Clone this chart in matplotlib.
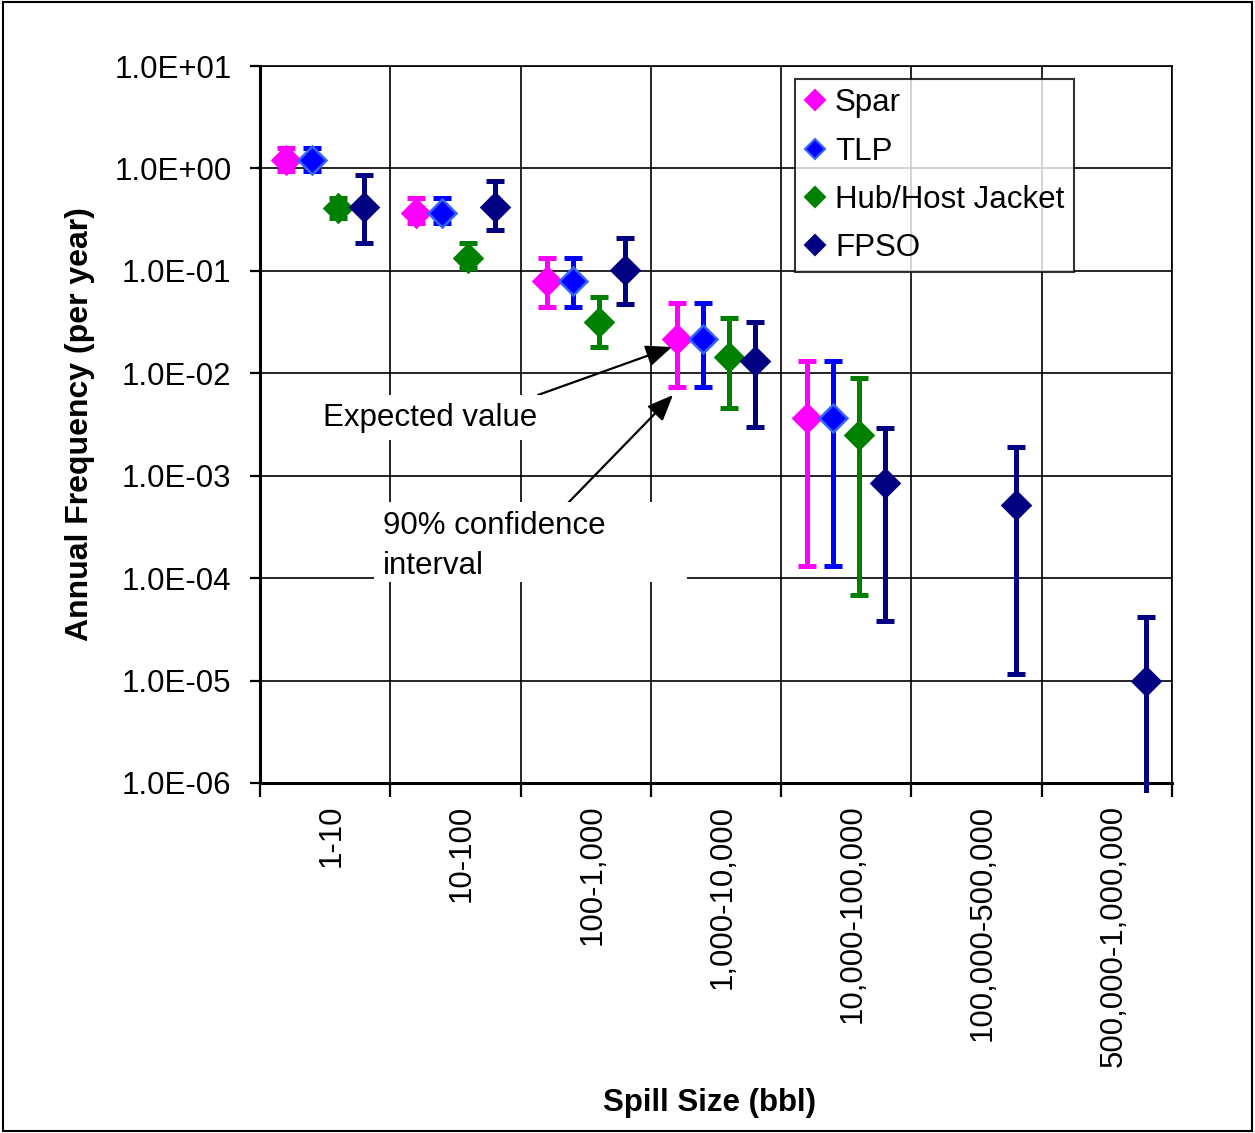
import numpy as np
import matplotlib
matplotlib.use("Agg")
import matplotlib.pyplot as plt
from matplotlib.lines import Line2D
from matplotlib.patches import Rectangle
from matplotlib.transforms import Bbox

# =============================================================================
# Datos
# =============================================================================
categorias = ["1-10", "10-100", "100-1,000", "1,000-10,000",
              "10,000-100,000", "100,000-500,000", "500,000-1,000,000"]

series = ["Spar", "TLP", "Hub/Host Jacket", "FPSO"]
colores = ["#FF00FF", "#0000FF", "#008000", "#000080"]
bordes = ["#FF00FF", "#3366FF", "#008000", "#000080"]
desplaz = [-0.3, -0.1, 0.1, 0.3]

nan = np.nan
spar_val = [1.22, 0.37, 0.079, 0.0216, 0.0037, nan, nan]
spar_lo = [0.95, 0.29, 0.044, 0.0073, 1.32e-4, nan, nan]
spar_hi = [1.6, 0.52, 0.135, 0.049, 0.0131, nan, nan]

tlp_val = [1.22, 0.37, 0.079, 0.0216, 0.0037, nan, nan]
tlp_lo = [0.95, 0.29, 0.044, 0.0073, 1.32e-4, nan, nan]
tlp_hi = [1.6, 0.52, 0.135, 0.049, 0.0131, nan, nan]

hub_val = [0.41, 0.133, 0.032, 0.0144, 0.0025, nan, nan]
hub_lo = [0.33, 0.106, 0.018, 0.0046, 6.8e-5, nan, nan]
hub_hi = [0.52, 0.185, 0.055, 0.0345, 0.0090, nan, nan]

fpso_val = [0.42, 0.42, 0.103, 0.0131, 8.5e-4, 5.2e-4, 1.0e-5]
fpso_lo = [0.185, 0.25, 0.047, 0.0030, 3.8e-5, 1.17e-5, 1.0e-7]
fpso_hi = [0.87, 0.76, 0.207, 0.032, 2.9e-3, 1.9e-3, 4.2e-5]

valores = [spar_val, tlp_val, hub_val, fpso_val]
bajos = [spar_lo, tlp_lo, hub_lo, fpso_lo]
altos = [spar_hi, tlp_hi, hub_hi, fpso_hi]

yticks = [1e-6, 1e-5, 1e-4, 1e-3, 1e-2, 1e-1, 1e0, 1e1]
yticklabels = ["1.0E-06", "1.0E-05", "1.0E-04", "1.0E-03",
               "1.0E-02", "1.0E-01", "1.0E+00", "1.0E+01"]

# =============================================================================
# Figura
# =============================================================================
plt.rcParams['font.family'] = ['Liberation Sans', 'DejaVu Sans']
FS = 22.5

W, H = 1255, 1133
fig = plt.figure(figsize=(W / 100, H / 100), dpi=100)


def px(x, y):
    # pixeles de la imagen -> fracción de figura
    return (x / W, 1 - y / H)


x0, y0 = px(260, 783)
x1, y1 = px(1172, 66)
ax = fig.add_axes([x0, y0, x1 - x0, y1 - y0])

ax.set_yscale('log')
ax.set_ylim(1e-6, 1e1)
ax.set_xlim(-0.5, len(categorias) - 0.5)

# cuadrícula
for yv in yticks:
    ax.axhline(yv, color='black', lw=1.2, zorder=1)
for xv in np.arange(len(categorias) + 1) - 0.5:
    ax.axvline(xv, color='black', lw=1.2, zorder=1)

for sp in ax.spines.values():
    sp.set_linewidth(1.2)
ax.spines['left'].set_linewidth(2.2)
ax.spines['bottom'].set_linewidth(2.2)

ax.set_yticks(yticks)
ax.set_yticklabels(yticklabels, fontsize=FS)
ax.yaxis.set_minor_locator(matplotlib.ticker.NullLocator())
ax.tick_params(axis='y', length=7.5, width=1.6, pad=13)

ax.set_xticks(np.arange(len(categorias) + 1) - 0.5, minor=False)
ax.set_xticklabels([])
ax.tick_params(axis='x', length=10, width=1.6)
for i, c in enumerate(categorias):
    ax.text(i + 0.05, -0.03, c, transform=ax.get_xaxis_transform(),
            rotation=90, ha='center', va='top', fontsize=FS)

# recorte un poco más allá del área del gráfico (como Excel)
recorte = Bbox.from_extents(260, H - 793, 1172, H - 66)

xs = np.arange(len(categorias))
for k in range(4):
    v = np.array(valores[k])
    lo = np.array(bajos[k])
    hi = np.array(altos[k])
    err = np.vstack([v - lo, hi - v])
    eb = ax.errorbar(xs + desplaz[k], v, yerr=err, fmt='none', ecolor=colores[k],
                     elinewidth=3.6, capsize=6.5, capthick=3.6, zorder=3)
    for ln in eb.lines[1]:
        ln.set_clip_box(recorte)
    for lc in eb.lines[2]:
        lc.set_clip_box(recorte)
    ax.plot(xs + desplaz[k], v, 'D', ms=14.5, color=colores[k],
            mec=bordes[k], mew=1.8, zorder=4, clip_on=False)

ax.set_ylabel("Annual Frequency (per year)", fontsize=23, fontweight='bold')
ax.yaxis.set_label_coords(-0.181, 0.5)
ax.set_xlabel("Spill Size (bbl)", fontsize=FS, fontweight='bold')
ax.xaxis.set_label_coords(0.493, -0.426)

# leyenda
manejadores = [Line2D([], [], marker='D', ls='none', ms=10.5, color=colores[k],
                      mec=bordes[k], mew=1.5) for k in range(4)]
leg = ax.legend(manejadores, series, loc='upper left',
                bbox_to_anchor=px(795, 79), bbox_transform=fig.transFigure,
                fontsize=FS, frameon=True, fancybox=False, borderaxespad=0,
                borderpad=0.3, handlelength=0.65, handletextpad=0.33,
                labelspacing=0.58)
leg.get_frame().set_edgecolor('black')
leg.get_frame().set_linewidth(1.5)
leg.set_zorder(6)

# cajas de anotación
def caja(xa, ya, xb, yb):
    p0 = px(xa, yb)
    p1 = px(xb, ya)
    fig.patches.append(Rectangle(p0, p1[0] - p0[0], p1[1] - p0[1],
                                 transform=fig.transFigure, facecolor='white',
                                 edgecolor='none', zorder=5))

caja(315, 395, 541, 440)
caja(374, 502, 687, 582)

fig.text(*px(323, 418), "Expected value", fontsize=FS, ha='left', va='center',
         zorder=7)
fig.text(*px(383, 526), "90% confidence", fontsize=FS, ha='left', va='center',
         zorder=7)
fig.text(*px(383, 566), "interval", fontsize=FS, ha='left', va='center',
         zorder=7)

props = dict(arrowstyle='-|>,head_length=0.53,head_width=0.22', color='black',
             lw=1.6, mutation_scale=30, shrinkA=0, shrinkB=0)
ax.annotate("", xy=px(672, 347), xytext=px(538, 395),
            xycoords='figure fraction', textcoords='figure fraction',
            arrowprops=props, zorder=8)
ax.annotate("", xy=px(673, 395), xytext=px(568, 503),
            xycoords='figure fraction', textcoords='figure fraction',
            arrowprops=props, zorder=8)

# marco exterior
fig.patches.append(Rectangle((0.002, 0.002), 0.996, 0.996,
                             transform=fig.transFigure, fill=False,
                             edgecolor='black', lw=1.5))

fig.savefig("out.png", dpi=100)
